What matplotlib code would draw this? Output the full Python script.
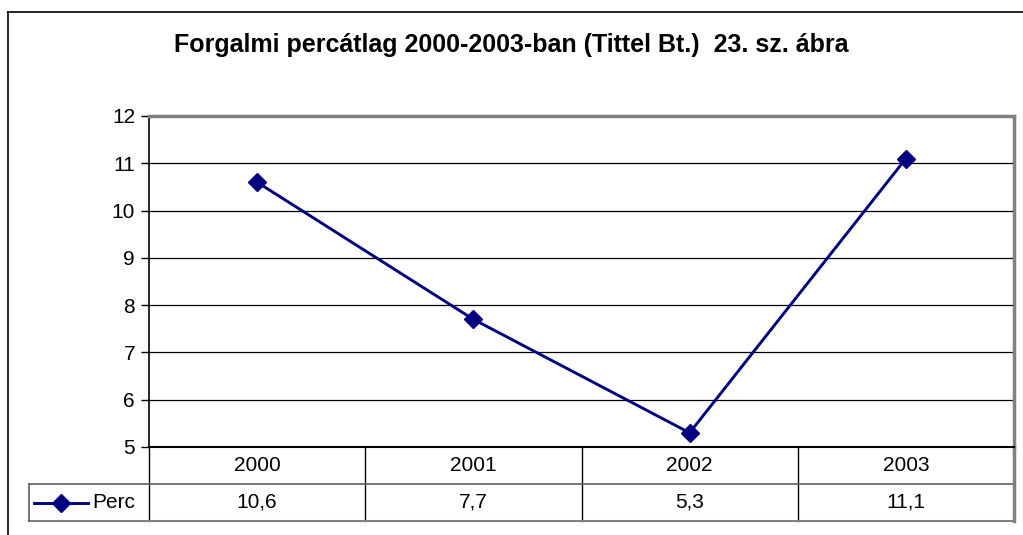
import numpy as np
import matplotlib
matplotlib.use('Agg')
import matplotlib.pyplot as plt
from matplotlib.transforms import blended_transform_factory
from matplotlib.lines import Line2D

plt.rcParams['font.family'] = ['Liberation Sans', 'DejaVu Sans']

years = ['2000', '2001', '2002', '2003']
perc = [10.6, 7.7, 5.3, 11.1]
perc_labels = ['10,6', '7,7', '5,3', '11,1']
series_name = 'Perc'
title = 'Forgalmi percátlag 2000-2003-ban (Tittel Bt.)  23. sz. ábra'

W, H = 1023, 535
fig = plt.figure(figsize=(W / 100, H / 100), dpi=100)

# outer chart frame (only top and left edges show)
fx, fy = 8 / W, 1 - 12 / H
fig.add_artist(Line2D([fx, 1.0], [fy, fy], transform=fig.transFigure, color='black', lw=1.2))
fig.add_artist(Line2D([fx, fx], [0.0, fy], transform=fig.transFigure, color='black', lw=1.2))

# plot area in pixels
left, right, top, bottom = 149, 1014, 116, 447
ax = fig.add_axes([left / W, 1 - bottom / H, (right - left) / W, (bottom - top) / H])

x = np.arange(len(years))
ax.plot(x, perc, color='#000080', lw=2.1, marker='D', markersize=9)
ax.set_xlim(-0.5, len(years) - 0.5)
ax.set_ylim(5, 12)
ax.set_yticks(range(5, 13))
ax.tick_params(axis='y', direction='out', length=6, width=1, labelsize=15, pad=4)
ax.set_xticks([])
ax.yaxis.grid(True, color='black', lw=0.9)
ax.set_axisbelow(True)
for s in ['top', 'right']:
    ax.spines[s].set_color('#808080')
    ax.spines[s].set_linewidth(2.5)
ax.spines['left'].set_linewidth(1.2)
ax.spines['bottom'].set_linewidth(1.5)

fig.text(0.5, 1 - 45 / H, title, ha='center', va='center',
         fontsize=18, fontweight='bold')

# data table under the axis
tr = blended_transform_factory(ax.transData, ax.transAxes)
row_h = 37 / (bottom - top)
legend_left = -0.5 - (left - 29) / (right - left) * len(years)
n = len(years)
kw = dict(transform=tr, clip_on=False)
for i, yr in enumerate(years):
    ax.text(i, -row_h / 2, yr, ha='center', va='center', fontsize=15, **kw)
    ax.text(i, -1.5 * row_h, perc_labels[i], ha='center', va='center', fontsize=15, **kw)
# vertical cell lines
for b in np.arange(-0.5, n - 1, 1.0):
    ax.add_line(Line2D([b, b], [0, -2 * row_h], color='black', lw=1, **kw))
# horizontal lines
ax.add_line(Line2D([legend_left, n - 0.5], [-row_h, -row_h], color='#606060', lw=1.2, **kw))
ax.add_line(Line2D([legend_left, n - 0.5], [-2 * row_h, -2 * row_h], color='#808080', lw=1.5, **kw))
ax.add_line(Line2D([legend_left, legend_left], [-row_h, -2 * row_h], color='#606060', lw=1.2, **kw))
ax.add_line(Line2D([n - 0.5, n - 0.5], [0, -2 * row_h], color='#808080', lw=2.5, **kw))

# legend key in the table
unit = len(years) / (right - left)
kx0 = legend_left + 5 * unit
kx1 = legend_left + 59 * unit
ax.add_line(Line2D([kx0, kx1], [-1.5 * row_h] * 2, color='#000080', lw=2.1, **kw))
ax.add_line(Line2D([(kx0 + kx1) / 2], [-1.5 * row_h], color='#000080', marker='D',
                   markersize=9, **kw))
ax.text(legend_left + 63 * unit, -1.5 * row_h, series_name, ha='left', va='center',
        fontsize=15, **kw)

fig.savefig('out.png', dpi=100)
